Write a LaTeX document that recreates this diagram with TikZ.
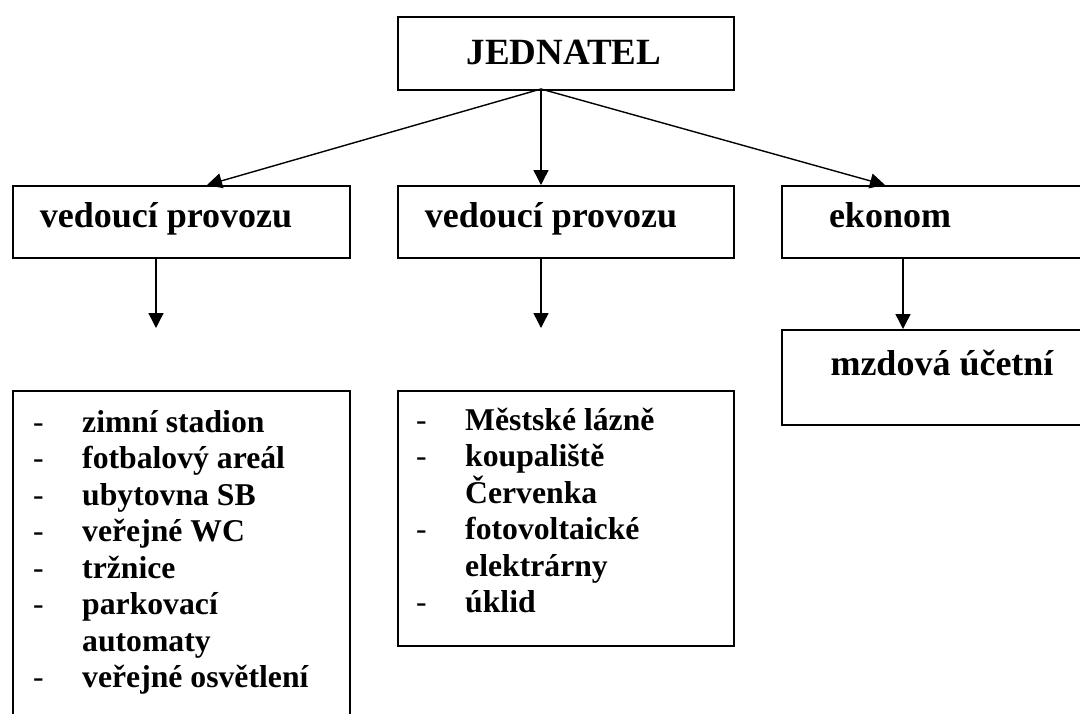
\documentclass[tikz,border=0pt]{standalone}
\usepackage{fontspec}
\setmainfont{Liberation Serif}
\usetikzlibrary{arrows.meta}
\begin{document}
\begin{tikzpicture}[x=1pt,y=-1pt,
  box/.style={draw, line width=1.8pt, inner sep=0pt, anchor=north west},
  arr/.style={line width=1.4pt, -{Triangle[length=15pt,width=15pt]}},
  head/.style={font=\fontsize{36}{40}\selectfont\bfseries, anchor=base, inner sep=0pt},
  item/.style={font=\fontsize{31.7}{36.5}\selectfont\bfseries, anchor=base west, inner sep=0pt},
  dashmark/.style={font=\fontsize{31.7}{36.5}\selectfont, anchor=base west, inner sep=0pt}]
\useasboundingbox (0,0) rectangle (1080,713);
\clip (0,0) rectangle (1080,713);
% boxes
\node[box, minimum width=336pt, minimum height=73pt] (top) at (397,16) {};
\node[box, minimum width=337pt, minimum height=72pt] (lbox) at (12,185) {};
\node[box, minimum width=336pt, minimum height=72pt] (mbox) at (397,185) {};
\node[box, minimum width=330pt, minimum height=72pt] (rbox) at (781,185) {};
\node[box, minimum width=330pt, minimum height=95pt] (mzd) at (781,329) {};
\node[box, minimum width=337pt, minimum height=370pt] (llist) at (12,390) {};
\node[box, minimum width=336pt, minimum height=255pt] (mlist) at (397,390) {};
% headings
\node[head, font=\fontsize{37}{40}\selectfont\bfseries] (tjed) at (564,64) {JEDNATEL};
\node[head] (tl) at (166,227) {vedoucí provozu};
\node[head] (tm) at (551,227) {vedoucí provozu};
\node[head] (tr) at (890,227) {ekonom};
\node[head] (tz) at (942,375) {mzdová účetní};
% connectors
\coordinate (apex) at (541,89);
\coordinate (ltip) at (207,185);
\coordinate (mtip) at (541,185);
\coordinate (rtip) at (885,185);
\draw[arr] (apex) -- (ltip);
\draw[arr] (apex) -- (mtip);
\draw[arr] (apex) -- (rtip);
\coordinate (ls) at (156,257);
\coordinate (le) at (156,328);
\coordinate (ms) at (541,257);
\coordinate (me) at (541,328);
\coordinate (rs) at (903,257);
\coordinate (re) at (903,329);
\draw[arr] (ls) -- (le);
\draw[arr] (ms) -- (me);
\draw[arr] (rs) -- (re);
% left list
\foreach \t [count=\i] in {zimní stadion, fotbalový areál, ubytovna SB, veřejné WC, tržnice, parkovací, automaty, veřejné osvětlení}{
  \node[item] (L\i) at (82,{432+36.5*(\i-1)}) {\t};
}
\foreach \i in {1,2,3,4,5,6,8}{
  \node[dashmark] (LD\i) at (33,{432+36.5*(\i-1)}) {-};
}
% middle list
\foreach \t [count=\i] in {Městské lázně, koupaliště, Červenka, fotovoltaické, elektrárny, úklid}{
  \node[item] (M\i) at (465,{430+36.5*(\i-1)}) {\t};
}
\foreach \i in {1,2,4,6}{
  \node[dashmark] (MD\i) at (416,{430+36.5*(\i-1)}) {-};
}
\end{tikzpicture}
\end{document}
